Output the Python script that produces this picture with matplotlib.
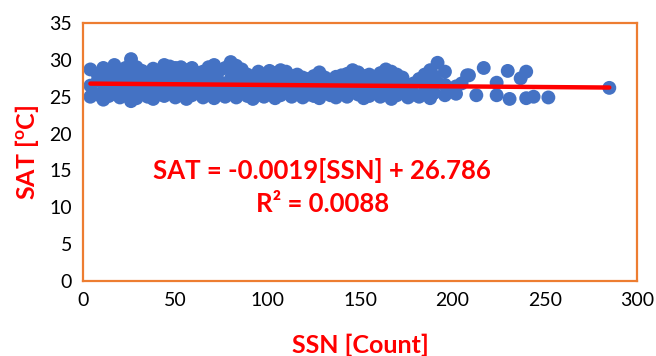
import matplotlib.pyplot as plt

plt.rcParams["font.family"] = ["Lato", "DejaVu Sans"]

# sunspot number vs. surface air temperature, read column by column
ssn = [
    4, 4, 4,
    8, 8, 8,
    11, 11, 11, 11,
    14, 14, 14,
    17, 17, 17,
    20, 20, 20, 20,
    23, 23, 23,
    26, 26, 26,
    29, 29, 29, 29,
    32, 32, 32,
    35, 35, 35,
    38, 38, 38, 38,
    41, 41, 41,
    44, 44, 44, 44,
    47, 47, 47,
    50, 50, 50, 50,
    53, 53, 53,
    56, 56, 56, 56,
    59, 59, 59,
    62, 62, 62,
    65, 65, 65,
    68, 68, 68,
    71, 71, 71, 71,
    74, 74, 74,
    77, 77, 77,
    80, 80, 80,
    83, 83, 83, 83,
    86, 86, 86,
    89, 89, 89,
    92, 92, 92,
    95, 95, 95,
    98, 98, 98,
    101, 101, 101,
    104, 104, 104,
    107, 107, 107,
    110, 110, 110,
    113, 113, 113,
    116, 116, 116,
    119, 119, 119,
    122, 122, 122,
    125, 125, 125,
    128, 128, 128,
    131, 131, 131,
    134, 134, 134,
    137, 137, 137,
    140, 140, 140,
    143, 143, 143,
    146, 146, 146,
    149, 149, 149,
    152, 152, 152,
    155, 155, 155,
    158, 158, 158,
    161, 161, 161,
    164, 164, 164,
    167, 167, 167,
    170, 170, 170,
    173, 173, 173,
    176, 176,
    179, 179,
    182, 182,
    185, 185, 185,
    188, 188, 188,
    190, 190,
    192, 192,
    196, 196, 196,
    199, 202, 202, 205,
    208, 209, 213, 217,
    224, 224, 230, 231,
    237, 240, 240, 244,
    252, 285,
]
sat = [
    25.0, 26.5, 28.7,
    25.3, 27.2, 28.0,
    24.6, 25.8, 27.6, 28.9,
    25.1, 26.3, 28.2,
    25.4, 27.0, 29.3,
    24.9, 26.0, 27.8, 28.6,
    25.6, 26.8, 28.9,
    24.4, 27.4, 30.1,
    24.8, 26.1, 28.1, 29.0,
    25.5, 27.1, 28.5,
    25.0, 26.4, 27.9,
    24.7, 25.9, 27.5, 28.8,
    25.3, 26.7, 28.3,
    25.1, 26.9, 28.7, 29.3,
    25.7, 27.3, 29.1,
    24.9, 26.2, 27.8, 28.9,
    25.4, 26.6, 29.0,
    24.7, 26.0, 27.7, 28.6,
    25.2, 27.0, 28.9,
    25.6, 26.5, 28.2,
    24.9, 26.8, 28.4,
    25.3, 27.2, 29.0,
    24.8, 26.3, 28.1, 29.3,
    25.5, 27.0, 28.6,
    25.0, 26.6, 28.9,
    25.4, 27.4, 29.7,
    24.9, 26.1, 28.3, 29.2,
    25.6, 27.1, 28.7,
    25.1, 26.7, 28.0,
    24.7, 26.2, 27.6,
    25.3, 26.9, 28.4,
    25.0, 26.5, 27.9,
    25.5, 27.3, 28.5,
    24.8, 26.0, 28.2,
    25.2, 26.8, 28.6,
    25.6, 27.1, 28.4,
    25.0, 26.4, 27.8,
    25.4, 27.0, 28.0,
    24.9, 26.2, 27.6,
    25.3, 26.7, 27.4,
    25.1, 26.9, 27.8,
    24.8, 26.3, 28.3,
    25.5, 27.0, 27.6,
    25.2, 26.6, 27.3,
    24.9, 26.1, 27.7,
    25.4, 27.2, 27.9,
    25.0, 26.5, 28.1,
    25.6, 27.4, 28.6,
    25.3, 26.8, 28.3,
    24.8, 26.0, 27.8,
    25.1, 27.1, 28.0,
    25.5, 26.4, 27.5,
    25.0, 26.9, 28.2,
    25.4, 27.3, 28.7,
    24.7, 26.2, 28.4,
    25.2, 26.7, 28.0,
    25.6, 27.0, 27.6,
    24.9, 26.3,
    25.3, 26.8,
    25.0, 27.4,
    25.7, 26.5, 28.0,
    24.8, 26.2, 28.6,
    25.5, 27.8,
    29.6, 26.9,
    25.2, 28.4, 26.6,
    25.9, 25.4, 26.4, 26.8,
    27.9, 27.9, 25.2, 28.9,
    26.9, 25.2, 28.5, 24.7,
    27.5, 28.4, 24.8, 25.0,
    24.9, 26.2,
]

# linear fit reported on the chart
slope = -0.0019
intercept = 26.786
r2 = 0.0088

red = "#FF0000"
orange = "#ED7D31"
blue = "#4472C4"

fig = plt.figure(figsize=(6.56, 3.56), dpi=100)
ax = fig.add_axes([83 / 656, 1 - 281 / 356, (637 - 83) / 656, (281 - 23) / 356])

ax.scatter(ssn, sat, s=100, color=blue, edgecolors="none", zorder=2)

x0, x1 = min(ssn), max(ssn)
ax.plot([x0, x1], [slope * x0 + intercept, slope * x1 + intercept],
        color=red, lw=3.2, solid_capstyle="round", zorder=3)

ax.set_xlim(0, 300)
ax.set_ylim(0, 35)
ax.set_xticks(range(0, 301, 50))
ax.set_yticks(range(0, 36, 5))
ax.tick_params(length=0, labelsize=14, pad=8)

for sp in ax.spines.values():
    sp.set_color(orange)
    sp.set_linewidth(1.6)

ax.set_xlabel("SSN [Count]", color=red, fontsize=18, fontweight="bold", labelpad=18)
ax.set_ylabel("SAT [$^{\\mathregular{o}}$C]", color=red, fontsize=18, fontweight="bold", labelpad=6)

ax.text(0.432, 0.43, f"SAT = {slope}[SSN] + {intercept}", transform=ax.transAxes,
        ha="center", va="center", color=red, fontsize=18.5, fontweight="bold")
ax.text(0.432, 0.30, f"R² = {r2}", transform=ax.transAxes,
        ha="center", va="center", color=red, fontsize=18.5, fontweight="bold")

fig.savefig("out.png", dpi=100)
